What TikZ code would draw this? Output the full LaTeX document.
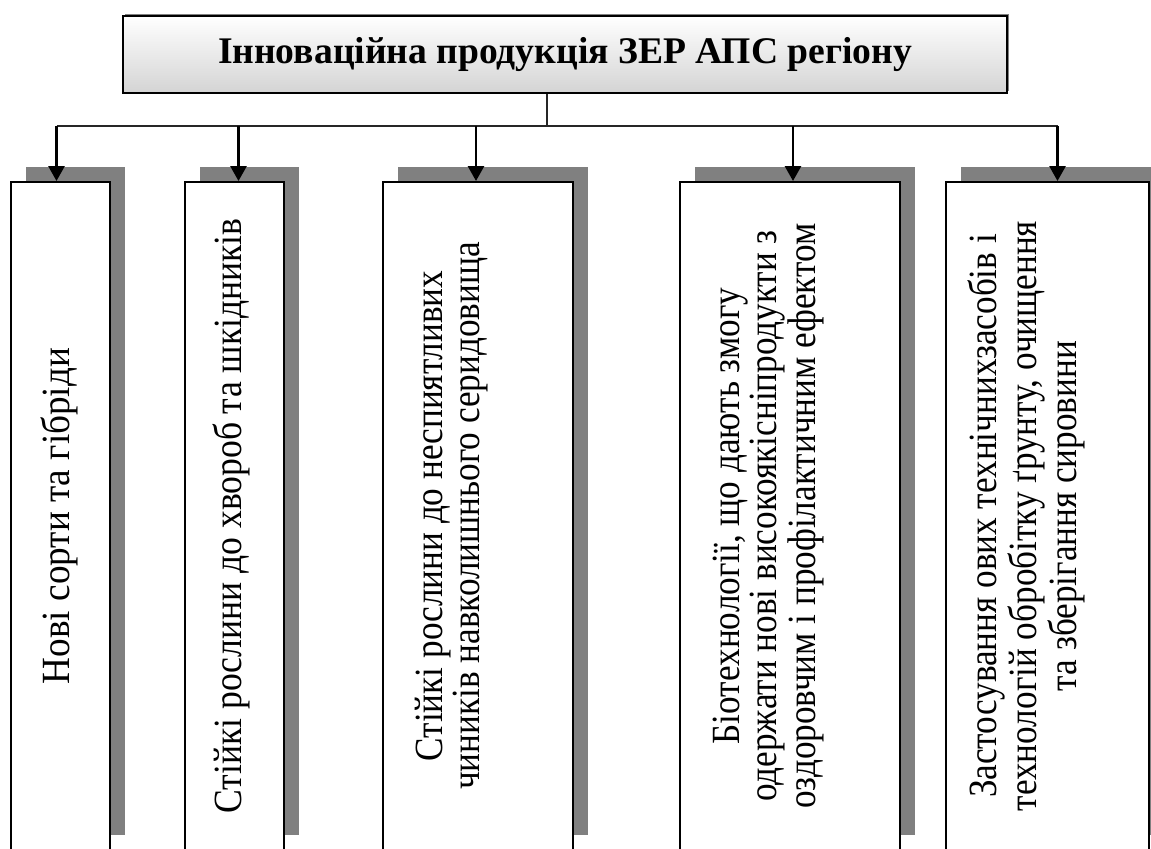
\documentclass[tikz,border=0pt]{standalone}
\usepackage{fontspec}
\setmainfont{Liberation Serif}
\usepackage{graphicx}
\usetikzlibrary{positioning, arrows.meta, shadows}
\definecolor{shadowgray}{RGB}{128,128,128}
\definecolor{headgray}{RGB}{212,212,212}
\newcommand{\vlines}[2][0.88]{\rotatebox{90}{\scalebox{#1}[1]{\begin{tabular}{@{}c@{}}#2\end{tabular}}}}

\tikzset{
  headbox/.style={draw, line width=1.1pt, top color=white, bottom color=headgray,
    minimum width=442pt, minimum height=38.5pt, inner sep=0pt,
    font=\fontsize{18.8}{22}\selectfont\bfseries,
    drop shadow={shadow xshift=1.2pt, shadow yshift=1.2pt, opacity=1, fill=shadowgray}},
  itembox/.style={draw, line width=1pt, fill=white, minimum height=334pt, inner sep=0pt,
    drop shadow={shadow xshift=7.5pt, shadow yshift=7.5pt, opacity=1, fill=shadowgray}},
  itemtext/.style={inner sep=0pt, font=\fontsize{20}{18.75}\selectfont},
  link/.style={-{Triangle[length=7.5pt,width=8pt]}, line width=1.4pt},
  bus/.style={line width=0.8pt, black!85},
}

\begin{document}
\begin{tikzpicture}[x=0.5pt, y=-0.5pt]
  \useasboundingbox (0,0) rectangle (1151,848);
  \clip (0,0) rectangle (1151,848);

  % Title
  \node[headbox] (head) at (565,54.5) {Інноваційна продукція ЗЕР АПС регіону};

  % Item boxes
  \node[itembox, minimum width=49.5pt] (sorts) at (60.5,516) {};
  \node[itembox, minimum width=49.5pt] (pests) at (234.5,516) {};
  \node[itembox, minimum width=95pt] (env) at (478,516) {};
  \node[itembox, minimum width=110pt] (bio) at (790,516) {};
  \node[itembox, minimum width=101.5pt] (tech) at (1047.5,516) {};

  % Item texts
  \node[itemtext] (sortsT) at (sorts.center) {\vlines[0.93]{Нові сорти та гібріди}};
  \node[itemtext] (pestsT) at ([xshift=-1pt]pests.center) {\vlines[0.89]{Стійкі рослини до хвороб та шкідників}};
  \node[itemtext] (envT) at ([xshift=-12.5pt]env.center) {\vlines{Стійкі рослини до неспиятливих\\чиників навколишнього серидовища}};
  \node[itemtext] (bioT) at ([xshift=-10pt]bio.center) {\vlines{Біотехнології, що дають змогу\\одержати нові високоякісніпродукти з\\оздоровчим і профілактичним ефектом}};
  \node[itemtext] (techT) at ([xshift=-10pt]tech.center) {\vlines{Застосування ових технічнихзасобів і\\технологій обробітку ґрунту, очищення\\та зберігання сировини}};

  % Connectors
  \coordinate (hub) at (547,126);
  \draw[bus] ([xshift=-9pt]head.south) -- (hub);
  \draw[bus] ([xshift=-2pt]sorts.north |- hub) -- ([xshift=5pt]tech.north |- hub);
  \draw[link] ([xshift=-2pt]sorts.north |- hub) -- ([xshift=-2pt]sorts.north);
  \draw[link] ([xshift=2pt]pests.north |- hub) -- ([xshift=2pt]pests.north);
  \draw[link] ([xshift=-1pt]env.north |- hub) -- ([xshift=-1pt]env.north);
  \draw[link] ([xshift=1.5pt]bio.north |- hub) -- ([xshift=1.5pt]bio.north);
  \draw[link] ([xshift=5pt]tech.north |- hub) -- ([xshift=5pt]tech.north);
\end{tikzpicture}
\end{document}
